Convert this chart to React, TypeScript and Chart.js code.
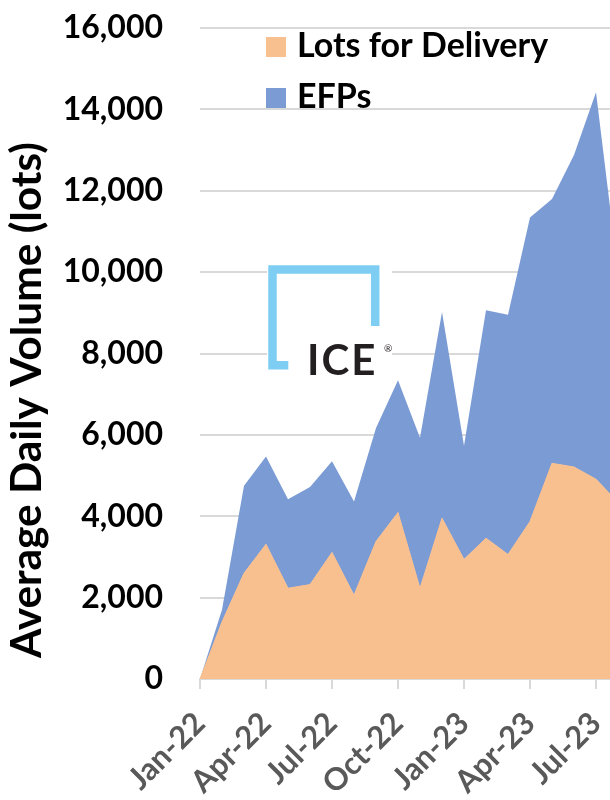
import React, { useEffect, useRef } from 'react';
import { Chart, registerables } from 'chart.js';

Chart.register(...registerables);

// ---- data ----
const months = [
  'Jan-22', 'Feb-22', 'Mar-22', 'Apr-22', 'May-22', 'Jun-22', 'Jul-22', 'Aug-22', 'Sep-22', 'Oct-22',
  'Nov-22', 'Dec-22', 'Jan-23', 'Feb-23', 'Mar-23', 'Apr-23', 'May-23', 'Jun-23', 'Jul-23', 'Aug-23',
];
const shownMonthLabels = ['Jan-22', 'Apr-22', 'Jul-22', 'Oct-22', 'Jan-23', 'Apr-23', 'Jul-23'];
const lotsForDelivery = [0, 1400, 2600, 3310, 2230, 2320, 3110, 2060, 3380, 4090, 2230, 3950, 2940, 3460, 3060, 3870, 5300, 5210, 4910, 4340];
const efps = [0, 300, 2150, 2160, 2190, 2400, 2240, 2300, 2790, 3250, 3700, 5070, 2790, 5600, 5890, 7470, 6500, 7670, 9510, 5660];
const seriesNames = ['Lots for Delivery', 'EFPs'];
const yAxisTitle = 'Average Daily Volume (lots)';
const yMin = 0;
const yMax = 16000;
const yStep = 2000;
const logoText = 'ICE';

const ORANGE = '#F8BF8F';
const BLUE = '#7B9BD4';
const GRID = '#D9D9D9';
const FONT = 'Lato';

const overlayPlugin = {
  id: 'overlay',
  beforeDatasetsDraw(chart: any) {
    const ctx = chart.ctx as CanvasRenderingContext2D;
    const a = chart.chartArea;
    const x0 = a.left;
    const y0 = a.top;
    ctx.save();
    // white backing for logo
    ctx.fillStyle = '#ffffff';
    ctx.fillRect(x0 + 67, y0 + 234, 125, 118);
    // bracket
    ctx.strokeStyle = '#7ECEF4';
    ctx.lineWidth = 8.5;
    ctx.lineJoin = 'miter';
    ctx.lineCap = 'butt';
    ctx.beginPath();
    ctx.moveTo(x0 + 88.3, y0 + 337.2);
    ctx.lineTo(x0 + 72.5, y0 + 337.2);
    ctx.lineTo(x0 + 72.5, y0 + 241.5);
    ctx.lineTo(x0 + 175.2, y0 + 241.5);
    ctx.lineTo(x0 + 175.2, y0 + 298);
    ctx.stroke();
    // text
    ctx.fillStyle = '#231F20';
    ctx.textAlign = 'left';
    ctx.textBaseline = 'alphabetic';
    ctx.font = `bold 42px ${FONT}`;
    (ctx as any).letterSpacing = '2px';
    ctx.fillText(logoText, x0 + 107, y0 + 347);
    (ctx as any).letterSpacing = '0px';
    ctx.font = `10px ${FONT}`;
    ctx.fillText('\u00AE', x0 + 184, y0 + 324);
    ctx.restore();
  },
  afterDraw(chart: any) {
    const ctx = chart.ctx as CanvasRenderingContext2D;
    const a = chart.chartArea;
    const x0 = a.left;
    const y0 = a.top;
    ctx.save();
    // legend
    const ds = chart.data.datasets;
    ctx.font = `bold 34px ${FONT}`;
    ctx.textAlign = 'left';
    ctx.textBaseline = 'alphabetic';
    ds.forEach((d: any, i: number) => {
      const top = y0 + 9 + i * 51;
      ctx.fillStyle = d.backgroundColor;
      ctx.fillRect(x0 + 66, top, 20, 20);
      ctx.fillStyle = '#000000';
      ctx.fillText(d.label, x0 + 97, top + 20);
    });
    // y axis title
    ctx.font = `bold 30px ${FONT}`;
    const w = ctx.measureText(yAxisTitle).width;
    const size = (30 * 516) / w;
    ctx.font = `bold ${size}px ${FONT}`;
    ctx.translate(41, 658);
    ctx.rotate(-Math.PI / 2);
    ctx.fillStyle = '#000000';
    ctx.fillText(yAxisTitle, 0, 0);
    ctx.restore();
  },
};

export default function App() {
  const ref = useRef<HTMLCanvasElement | null>(null);

  useEffect(() => {
    if (!ref.current) return;
    const chart = new Chart(ref.current, {
      type: 'line',
      data: {
        labels: months,
        datasets: [
          {
            label: seriesNames[0],
            data: lotsForDelivery,
            backgroundColor: ORANGE,
            borderColor: ORANGE,
            borderWidth: 1,
            fill: 'origin',
            pointRadius: 0,
            tension: 0,
          },
          {
            label: seriesNames[1],
            data: efps,
            backgroundColor: BLUE,
            borderColor: BLUE,
            borderWidth: 0,
            fill: '-1',
            pointRadius: 0,
            tension: 0,
          },
        ],
      },
      options: {
        animation: false,
        responsive: false,
        layout: { padding: { left: 0, right: 22, top: 28, bottom: 0 } },
        plugins: {
          legend: { display: false },
          tooltip: { enabled: false },
        },
        scales: {
          x: {
            type: 'category',
            offset: false,
            grid: {
              display: true,
              drawOnChartArea: false,
              drawTicks: true,
              tickLength: 10,
              color: GRID,
              lineWidth: 2,
            },
            border: { display: true, color: GRID, width: 2 },
            ticks: {
              autoSkip: false,
              maxRotation: 45,
              minRotation: 45,
              color: '#595959',
              padding: 16,
              font: { family: FONT, weight: 'bold', size: 31 },
              callback: (_v: any, i: number) => (shownMonthLabels.includes(months[i]) ? months[i] : null),
            },
            afterFit: (s: any) => {
              s.height = 121;
            },
          },
          y: {
            stacked: true,
            min: yMin,
            max: yMax,
            grid: {
              color: GRID,
              lineWidth: 2,
              drawTicks: true,
              tickLength: 37,
              tickColor: 'rgba(0,0,0,0)',
            },
            border: { display: false },
            ticks: {
              stepSize: yStep,
              color: '#000000',
              padding: 0,
              font: { family: FONT, weight: 'bold', size: 32 },
              callback: (v: any) => Number(v).toLocaleString('en-US'),
            },
            afterFit: (s: any) => {
              s.width = 200;
            },
          },
        },
      },
      plugins: [overlayPlugin],
    } as any);
    return () => chart.destroy();
  }, []);

  return (
    <div
      style={{
        position: 'fixed',
        left: 0,
        top: 0,
        width: 610,
        height: 800,
        overflow: 'hidden',
        background: '#ffffff',
      }}
    >
      <canvas ref={ref} width={640} height={800} style={{ display: 'block' }} />
    </div>
  );
}
